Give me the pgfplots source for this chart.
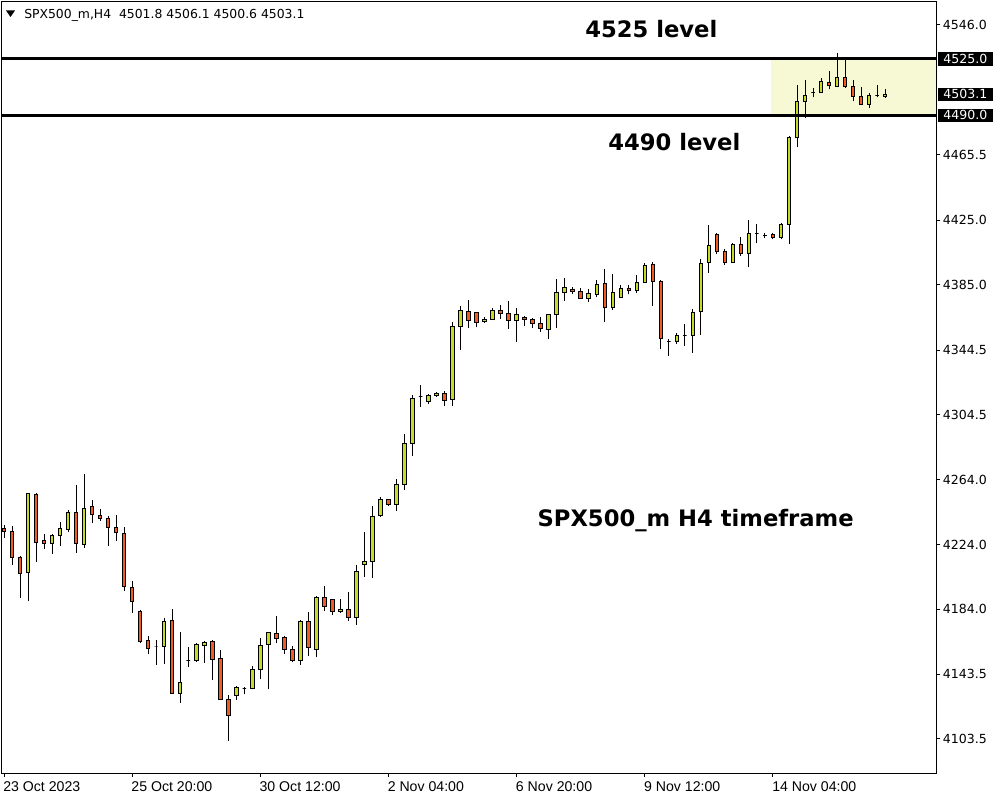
\documentclass[border=0pt]{standalone}
\usepackage{fontspec}
\setmainfont{DejaVu Sans}
\newfontfamily\datefont{Liberation Sans}
\usepackage{pgfplots}
\pgfplotsset{compat=1.18}
\usepackage{pgfplotstable}

\definecolor{bull}{RGB}{198,218,40}
\definecolor{bear}{RGB}{242,92,34}
\definecolor{zone}{RGB}{247,248,212}

\tikzset{
  bullc/.style={draw=black, fill=bull, line width=0.75pt, solid},
  bearc/.style={draw=black, fill=bear, line width=0.75pt, solid},
  dojic/.style={draw=black, fill=black, line width=0.75pt, solid},
}

% SPX500_m H4: index, open, high, low, close
\pgfplotstableread{
x o h l c
0 4234.1 4236.1 4228.3 4232.0
1 4232.3 4235.5 4211.3 4215.8
2 4216.1 4216.6 4190.8 4206.3
3 4206.9 4256.2 4188.7 4255.8
4 4255.2 4255.8 4213.4 4225.4
5 4226.2 4230.4 4221.2 4224.8
6 4224.8 4230.4 4218.0 4229.7
7 4229.7 4237.8 4223.3 4234.1
8 4233.5 4245.2 4232.0 4244.0
9 4244.0 4260.9 4219.0 4224.8
10 4224.2 4267.7 4222.1 4246.5
11 4247.7 4251.6 4237.2 4242.8
12 4242.1 4245.9 4238.8 4240.3
13 4240.3 4241.5 4223.3 4234.7
14 4234.7 4242.1 4226.4 4231.6
15 4231.0 4234.7 4195.4 4197.9
16 4197.5 4201.2 4181.8 4188.8
17 4182.8 4183.4 4162.8 4163.8
18 4164.7 4167.3 4156.4 4159.7
19 4160.5 4164.9 4149.4 4160.5
20 4160.9 4178.5 4150.2 4176.4
21 4177.1 4184.1 4131.5 4131.8
22 4131.8 4169.6 4126.0 4138.6
23 4152.0 4160.5 4148.3 4152.0
24 4152.0 4162.8 4151.4 4162.2
25 4161.6 4164.0 4150.8 4163.4
26 4164.0 4164.7 4140.2 4152.9
27 4153.5 4158.5 4127.5 4128.1
28 4128.1 4130.6 4102.4 4118.2
29 4130.6 4136.2 4127.9 4135.5
30 4134.6 4135.5 4131.2 4134.6
31 4134.9 4148.6 4134.3 4146.7
32 4146.7 4165.9 4140.5 4161.6
33 4162.2 4170.0 4134.3 4169.6
34 4169.0 4179.5 4162.8 4165.9
35 4166.5 4167.1 4156.0 4159.1
36 4159.1 4160.9 4151.0 4152.3
37 4152.3 4177.1 4149.2 4176.4
38 4176.4 4182.0 4154.8 4160.3
39 4159.1 4191.9 4154.1 4191.3
40 4191.3 4198.3 4183.0 4185.5
41 4190.1 4190.5 4180.5 4182.4
42 4182.4 4190.3 4181.8 4183.9
43 4183.9 4194.6 4176.8 4178.7
44 4178.7 4211.3 4174.3 4207.4
45 4211.8 4231.6 4204.1 4213.6
46 4213.4 4247.9 4203.5 4241.5
47 4241.9 4253.3 4241.3 4252.1
48 4252.1 4252.4 4248.1 4249.0
49 4249.0 4264.6 4245.0 4261.3
50 4261.3 4292.5 4258.0 4286.8
51 4286.8 4316.5 4279.1 4314.6
52 4315.6 4322.9 4309.4 4315.6
53 4312.8 4317.1 4310.9 4316.5
54 4316.5 4318.4 4315.3 4317.7
55 4317.7 4319.0 4310.1 4313.4
56 4314.0 4361.9 4310.1 4359.3
57 4359.3 4371.8 4344.4 4369.2
58 4368.6 4375.6 4358.4 4363.0
59 4367.9 4368.3 4359.0 4361.7
60 4362.4 4364.8 4361.5 4363.6
61 4363.6 4370.4 4363.0 4369.2
62 4369.2 4372.3 4364.0 4367.3
63 4367.3 4374.8 4357.8 4363.0
64 4363.0 4370.4 4349.7 4366.7
65 4364.8 4365.5 4359.6 4363.6
66 4363.6 4364.2 4358.4 4361.1
67 4361.1 4364.8 4355.9 4358.0
68 4357.4 4367.0 4351.6 4366.7
69 4366.7 4388.4 4358.4 4380.3
70 4380.3 4389.0 4375.1 4383.4
71 4382.2 4383.4 4379.1 4381.0
72 4381.0 4382.8 4376.4 4376.6
73 4376.6 4382.2 4374.1 4379.7
74 4379.1 4387.8 4377.2 4385.3
75 4385.9 4394.6 4361.7 4371.0
76 4371.0 4391.5 4369.2 4380.3
77 4377.2 4384.7 4376.6 4382.8
78 4382.8 4384.7 4379.1 4381.6
79 4381.6 4390.9 4379.7 4386.5
80 4386.5 4398.3 4385.9 4397.1
81 4397.7 4398.9 4371.7 4387.2
82 4387.2 4387.8 4345.0 4351.8
83 4349.8 4351.2 4341.0 4349.8
84 4350.0 4354.9 4348.1 4353.7
85 4353.4 4360.5 4346.9 4353.4
86 4353.7 4369.8 4342.9 4367.9
87 4368.6 4400.8 4354.1 4398.3
88 4398.9 4421.9 4392.5 4409.5
89 4416.3 4416.9 4403.9 4405.8
90 4405.8 4407.0 4397.1 4398.9
91 4398.9 4410.7 4398.6 4410.1
92 4410.1 4414.4 4402.6 4404.5
93 4404.5 4425.0 4395.8 4416.9
94 4416.6 4422.5 4410.7 4416.6
95 4415.5 4416.9 4413.8 4415.5
96 4415.9 4416.9 4413.2 4414.4
97 4414.4 4423.1 4413.2 4422.5
98 4422.5 4477.0 4410.1 4476.4
99 4476.4 4508.8 4470.2 4498.5
100 4498.7 4511.7 4488.2 4502.4
101 4504.0 4506.8 4501.2 4504.0
102 4504.3 4513.0 4503.7 4511.1
103 4510.5 4517.3 4506.1 4508.6
104 4508.0 4528.5 4507.4 4513.6
105 4513.6 4524.1 4506.8 4508.0
106 4508.0 4511.7 4498.7 4501.8
107 4501.8 4507.4 4496.6 4496.9
108 4496.9 4503.7 4494.4 4502.4
109 4502.1 4508.6 4501.2 4502.1
110 4501.8 4506.1 4500.6 4503.1
}\ohlc

\begin{document}
\begin{tikzpicture}
\path[use as bounding box] (-1.5pt,-20.25pt) rectangle (748.5pt,579.75pt);
\pgfplotstablegetrowsof{\ohlc}
\pgfmathtruncatemacro{\lastrow}{\pgfplotsretval-1}
\begin{axis}[
  at={(0,0)}, anchor=south west,
  scale only axis, width=700.5pt, height=578.25pt,
  xmin=-0.25, xmax=116.35, ymin=4082.4, ymax=4560.25,
  axis line style={black, line width=0.75pt},
  tick align=outside, major tick length=3pt,
  tick style={black, line width=0.75pt},
  xtick pos=bottom, ytick pos=right, yticklabel pos=right,
  xtick={0,16,32,48,64,80,96},
  xticklabels={23 Oct 2023, 25 Oct 20:00, 30 Oct 12:00, 2 Nov 04:00, 6 Nov 20:00, 9 Nov 12:00, 14 Nov 04:00},
  ytick={4103.5,4143.5,4184.0,4224.0,4264.0,4304.5,4344.5,4385.0,4425.0,4465.5,4546.0},
  yticklabels={4103.5,4143.5,4184.0,4224.0,4264.0,4304.5,4344.5,4385.0,4425.0,4465.5,4546.0},
  xticklabel style={anchor=north west, inner sep=0pt, xshift=-0.75pt, yshift=-3pt, font=\datefont\fontsize{10.6}{12}\selectfont},
  yticklabel style={anchor=west, inner sep=0pt, xshift=2pt, font=\fontsize{9.4}{11}\selectfont},
]
\fill[zone] (axis cs:95.75,4490) rectangle (axis cs:116.35,4525);
\pgfplotsforeachungrouped \i in {0,...,\lastrow}{%
  \pgfplotstablegetelem{\i}{x}\of\ohlc\let\cX\pgfplotsretval
  \pgfplotstablegetelem{\i}{o}\of\ohlc\let\cO\pgfplotsretval
  \pgfplotstablegetelem{\i}{h}\of\ohlc\let\cH\pgfplotsretval
  \pgfplotstablegetelem{\i}{l}\of\ohlc\let\cL\pgfplotsretval
  \pgfplotstablegetelem{\i}{c}\of\ohlc\let\cC\pgfplotsretval
  \ifdim\cO pt<\cC pt \def\cS{bullc}\let\bLo\cO\let\bHi\cC
  \else\ifdim\cO pt>\cC pt \def\cS{bearc}\let\bLo\cC\let\bHi\cO
  \else\def\cS{dojic}\let\bLo\cO\let\bHi\cO\fi\fi
  \pgfmathsetmacro\xL{\cX-0.22}%
  \pgfmathsetmacro\xR{\cX+0.22}%
  \edef\temp{\noexpand\addplot[black, line width=0.75pt] coordinates {(\cX,\cL) (\cX,\cH)};%
    \noexpand\addplot[\cS] coordinates {(\xL,\bLo) (\xR,\bLo) (\xR,\bHi) (\xL,\bHi)} --cycle;}%
  \temp
}
\addplot[black, line width=2.25pt] coordinates {(-0.25,4525) (116.35,4525)};
\addplot[black, line width=2.25pt] coordinates {(-0.25,4490) (116.35,4490)};
\end{axis}
\begin{scope}[x=0.75pt, y=-0.75pt, shift={(-2,-773)}]
  \fill (6,10.5) -- (15,10.5) -- (10.5,17) -- cycle;
  \node[anchor=base west, inner sep=0pt, font=\fontsize{9.3}{11}\selectfont] at (24,18.3) {SPX500\_m,H4\ \ 4501.8 4506.1 4500.6 4503.1};
  \node[anchor=base west, inner sep=0pt, font=\bfseries\fontsize{17}{20}\selectfont] at (585,37.3) {4525 level};
  \node[anchor=base west, inner sep=0pt, font=\bfseries\fontsize{17}{20}\selectfont] at (608,150.5) {4490 level};
  \node[anchor=base west, inner sep=0pt, font=\bfseries\fontsize{17}{20}\selectfont] at (537.3,526.7) {SPX500\_m H4 timeframe};
  \foreach \yy/\lab in {58.9/4525.0, 94.2/4503.1, 115.3/4490.0}{
    \node[fill=black, text=white, inner sep=0pt, minimum width=41pt, minimum height=10pt, anchor=west, font=\fontsize{9.4}{11}\selectfont] at (937.7,\yy) {\lab};
  }
\end{scope}
\end{tikzpicture}
\end{document}
